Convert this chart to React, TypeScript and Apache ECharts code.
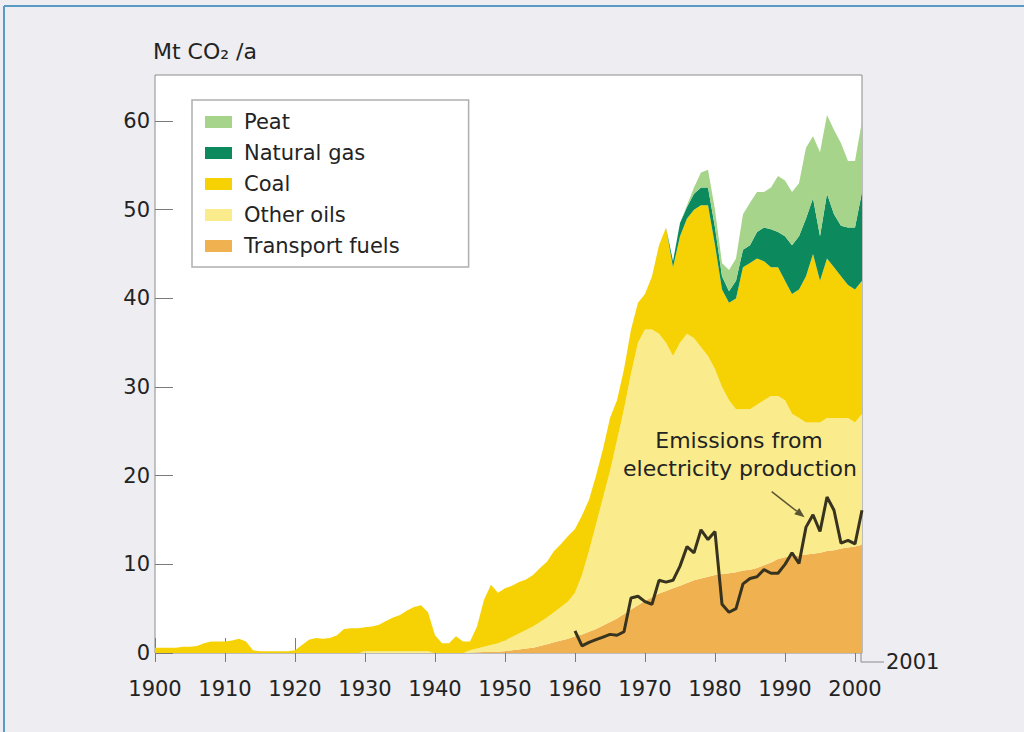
import React, { useEffect, useRef } from "react";
import * as echarts from "echarts";

// Years 1900–2001
const years: number[] = Array.from({ length: 102 }, (_, i) => 1900 + i);

// Emissions by fuel, Mt CO2 per year (stacked from the bottom up)
const transportFuels = [
  0, 0, 0, 0, 0, 0, 0, 0, 0, 0,
  0, 0, 0, 0, 0, 0, 0, 0, 0, 0,
  0, 0, 0, 0, 0, 0, 0, 0, 0, 0,
  0, 0, 0, 0, 0, 0, 0, 0, 0, 0,
  0, 0, 0, 0, 0, 0, 0.05, 0.1, 0.1, 0.15,
  0.2, 0.3, 0.4, 0.5, 0.6, 0.8, 1.0, 1.2, 1.4, 1.6,
  1.9, 2.1, 2.4, 2.7, 3.1, 3.5, 3.9, 4.4, 4.9, 5.4,
  5.9, 6.3, 6.7, 7.0, 7.3, 7.6, 7.9, 8.2, 8.4, 8.6,
  8.8, 8.9, 9.0, 9.1, 9.3, 9.4, 9.6, 9.9, 10.2, 10.6,
  10.8, 10.9, 11.0, 11.1, 11.2, 11.3, 11.5, 11.6, 11.8, 11.9,
  12.0, 12.2,
];

const otherOils = [
  0, 0, 0, 0, 0, 0, 0, 0, 0, 0,
  0, 0, 0, 0, 0, 0, 0, 0, 0, 0,
  0, 0, 0, 0, 0, 0, 0, 0, 0, 0,
  0.2, 0.2, 0.2, 0.2, 0.2, 0.2, 0.2, 0.2, 0.2, 0.2,
  0, 0, 0, 0, 0, 0.3, 0.45, 0.6, 0.8, 0.95,
  1.2, 1.5, 1.8, 2.1, 2.4, 2.7, 3.0, 3.4, 3.8, 4.2,
  4.9, 6.7, 9.1, 11.8, 14.4, 17.0, 20.1, 23.1, 26.6, 29.6,
  30.6, 30.2, 29.3, 28.0, 26.2, 27.4, 28.1, 27.3, 26.1, 24.9,
  23.2, 21.1, 19.5, 18.4, 18.2, 18.1, 18.4, 18.6, 18.8, 18.4,
  17.7, 16.1, 15.5, 14.9, 14.8, 14.7, 15.0, 14.9, 14.7, 14.6,
  14.0, 14.8,
];

const coal = [
  0.6, 0.6, 0.6, 0.6, 0.7, 0.7, 0.8, 1.1, 1.3, 1.3,
  1.3, 1.4, 1.6, 1.3, 0.3, 0.2, 0.2, 0.2, 0.2, 0.2,
  0.3, 0.9, 1.5, 1.7, 1.6, 1.7, 2.0, 2.7, 2.8, 2.8,
  2.7, 2.8, 3.0, 3.4, 3.8, 4.1, 4.6, 5.0, 5.2, 4.4,
  2.0, 1.1, 1.1, 1.9, 1.3, 1.0, 2.5, 5.3, 6.8, 5.7,
  5.9, 5.8, 5.8, 5.7, 5.8, 6.1, 6.3, 6.9, 7.1, 7.4,
  7.2, 6.7, 5.8, 5.5, 5.5, 6.0, 4.5, 4.5, 5.0, 4.5,
  4.0, 6.0, 10.0, 13.0, 10.0, 12.0, 13.0, 14.5, 16.0, 17.0,
  14.0, 11.0, 11.0, 12.5, 16.0, 16.5, 16.5, 15.7, 14.5, 14.5,
  13.5, 13.5, 14.5, 16.5, 19.0, 16.0, 18.0, 17.0, 16.0, 15.0,
  15.0, 15.0,
];

const naturalGas = [
  0, 0, 0, 0, 0, 0, 0, 0, 0, 0,
  0, 0, 0, 0, 0, 0, 0, 0, 0, 0,
  0, 0, 0, 0, 0, 0, 0, 0, 0, 0,
  0, 0, 0, 0, 0, 0, 0, 0, 0, 0,
  0, 0, 0, 0, 0, 0, 0, 0, 0, 0,
  0, 0, 0, 0, 0, 0, 0, 0, 0, 0,
  0, 0, 0, 0, 0, 0, 0, 0, 0, 0,
  0, 0, 0, 0, 0.7, 1.5, 1.3, 1.8, 2.0, 2.0,
  2.0, 1.5, 1.3, 2.0, 2.0, 2.0, 3.0, 3.8, 4.3, 4.0,
  5.0, 5.5, 6.0, 6.5, 6.3, 5.0, 7.3, 6.0, 5.7, 6.5,
  7.0, 10.0,
];

const peat = [
  0, 0, 0, 0, 0, 0, 0, 0, 0, 0,
  0, 0, 0, 0, 0, 0, 0, 0, 0, 0,
  0, 0, 0, 0, 0, 0, 0, 0, 0, 0,
  0, 0, 0, 0, 0, 0, 0, 0, 0, 0,
  0, 0, 0, 0, 0, 0, 0, 0, 0, 0,
  0, 0, 0, 0, 0, 0, 0, 0, 0, 0,
  0, 0, 0, 0, 0, 0, 0, 0, 0, 0,
  0, 0, 0, 0, 0, 0, 0.2, 0.7, 1.7, 2.0,
  2.0, 1.5, 2.4, 2.5, 4.0, 4.8, 4.5, 4.0, 4.7, 6.3,
  6.3, 6.0, 6.0, 8.0, 7.0, 9.5, 8.9, 9.5, 9.3, 7.5,
  7.5, 8.0,
];

// Emissions from electricity production, 1960–2001
const electricityStart = 1960;
const electricity = [
  2.5, 0.8, 1.2, 1.5, 1.8, 2.1, 2.0, 2.4, 6.2, 6.4,
  5.8, 5.5, 8.2, 8.0, 8.2, 9.8, 12.0, 11.3, 13.9, 12.8,
  13.7, 5.5, 4.6, 5.0, 7.8, 8.4, 8.6, 9.4, 9.0, 9.0,
  10.0, 11.3, 10.1, 14.2, 15.6, 13.7, 17.6, 16.1, 12.4, 12.7,
  12.3, 16.1,
];

// Arrow from the annotation to the line: [year, value] at tail and head
const arrowTail = [1988.1, 18.2];
const arrowHead = [1992.8, 15.3];

const yTicks = [0, 10, 20, 30, 40, 50, 60];
const tickYears = [1900, 1910, 1920, 1930, 1940, 1950, 1960, 1970, 1980, 1990, 2000];
const lastYear = 2001;

const FONT = "'DejaVu Sans', Verdana, sans-serif";
const TEXT = "#232323";

const fuels = [
  { name: "Transport fuels", values: transportFuels, color: "#F0B250" },
  { name: "Other oils", values: otherOils, color: "#FAEC8C" },
  { name: "Coal", values: coal, color: "#F6D204" },
  { name: "Natural gas", values: naturalGas, color: "#0C8A5E" },
  { name: "Peat", values: peat, color: "#A6D48A" },
];

const isTickYear = (_: number, value: string | number) => tickYears.includes(Number(value));

export default function App() {
  const ref = useRef<HTMLDivElement>(null);

  useEffect(() => {
    if (!ref.current) return;
    const chart = echarts.init(ref.current, undefined, { renderer: "svg" });

    const areaSeries = fuels.map((f) => ({
      name: f.name,
      type: "line",
      stack: "total",
      data: f.values,
      symbol: "none",
      lineStyle: { width: 0 },
      areaStyle: { color: f.color, opacity: 1 },
      itemStyle: { color: f.color },
      z: 2,
    }));

    const electricityData = years.map((y) =>
      y < electricityStart ? null : electricity[y - electricityStart]
    );

    const categories = years.map(String);

    const option: any = {
      animation: false,
      backgroundColor: "#EDEDF2",
      textStyle: { fontFamily: FONT },
      grid: {
        left: 155,
        top: 75,
        width: 707,
        height: 578,
        show: true,
        backgroundColor: "#FFFFFF",
        borderColor: "#8C8C8C",
        borderWidth: 1,
      },
      legend: {
        left: 192,
        top: 100,
        orient: "vertical",
        data: ["Peat", "Natural gas", "Coal", "Other oils", "Transport fuels"],
        icon: "rect",
        itemWidth: 27,
        itemHeight: 12,
        itemGap: 9,
        padding: [11, 69, 10, 13],
        backgroundColor: "#FFFFFF",
        borderColor: "#AFAFAF",
        borderWidth: 1.5,
        textStyle: {
          fontFamily: FONT,
          fontSize: 21,
          lineHeight: 22,
          color: TEXT,
          padding: [0, 0, 0, 7],
        },
        selectedMode: false,
      },
      xAxis: [
        {
          type: "category",
          data: categories,
          boundaryGap: false,
          axisLine: { show: false },
          splitLine: { show: false },
          axisTick: {
            show: true,
            inside: true,
            length: 15,
            interval: isTickYear,
            lineStyle: { color: "#7A7A7A", width: 1 },
          },
          axisLabel: {
            interval: isTickYear,
            fontFamily: FONT,
            fontSize: 21,
            color: TEXT,
            margin: 25,
          },
        },
        {
          type: "category",
          data: categories,
          position: "bottom",
          boundaryGap: false,
          axisLine: { show: false },
          splitLine: { show: false },
          axisTick: {
            show: true,
            inside: false,
            length: 9,
            interval: isTickYear,
            lineStyle: { color: "#7A7A7A", width: 1 },
          },
          axisLabel: { show: false },
        },
      ],
      yAxis: {
        type: "value",
        min: 0,
        max: 65.2,
        interval: 10,
        axisLine: { show: false },
        splitLine: { show: false },
        axisTick: {
          show: true,
          inside: true,
          length: 18,
          customValues: yTicks,
          lineStyle: { color: "#7A7A7A", width: 1 },
        },
        axisLabel: {
          customValues: yTicks,
          fontFamily: FONT,
          fontSize: 21,
          color: TEXT,
          margin: 5,
        },
      },
      series: [
        ...areaSeries,
        {
          name: "Electricity production",
          type: "line",
          data: electricityData,
          connectNulls: false,
          symbol: "none",
          lineStyle: { color: "#38331F", width: 3 },
          itemStyle: { color: "#38331F" },
          z: 5,
        },
      ],
    };

    chart.setOption(option);

    // Pixel mapping of the time axis and value axis, for annotations
    const p0 = chart.convertToPixel({ xAxisIndex: 0, yAxisIndex: 0 }, [0, 0]) as number[];
    const p1 = chart.convertToPixel({ xAxisIndex: 0, yAxisIndex: 0 }, [years.length - 1, 60]) as number[];
    const px = (year: number) => p0[0] + ((year - years[0]) / (years.length - 1)) * (p1[0] - p0[0]);
    const py = (v: number) => p0[1] + (v / 60) * (p1[1] - p0[1]);

    const tx = px(arrowTail[0]);
    const ty = py(arrowTail[1]);
    const hx = px(arrowHead[0]);
    const hy = py(arrowHead[1]);
    const ang = Math.atan2(hy - ty, hx - tx);
    const headLen = 10;
    const headHalf = 4;
    const bx = hx - headLen * Math.cos(ang);
    const by = hy - headLen * Math.sin(ang);
    const nx = -Math.sin(ang) * headHalf;
    const ny = Math.cos(ang) * headHalf;

    const endX = px(lastYear);
    const endY = py(0);

    chart.setOption({
      graphic: [
        {
          type: "line",
          silent: true,
          shape: { x1: tx, y1: ty, x2: bx, y2: by },
          style: { stroke: "#5A5434", lineWidth: 1.5 },
          z: 10,
        },
        {
          type: "polygon",
          silent: true,
          shape: { points: [[hx, hy], [bx + nx, by + ny], [bx - nx, by - ny]] },
          style: { fill: "#5A5434" },
          z: 10,
        },
        {
          type: "polyline",
          silent: true,
          shape: { points: [[endX - 1, endY], [endX - 1, endY + 9], [endX + 22, endY + 9]] },
          style: { stroke: "#8C8C8C", lineWidth: 1, fill: null },
        },
        {
          type: "text",
          silent: true,
          x: endX + 24,
          y: endY + 9,
          style: {
            text: String(lastYear),
            font: `21px ${FONT}`,
            fill: TEXT,
            textAlign: "left",
            textVerticalAlign: "middle",
          },
        },
        {
          type: "text",
          silent: true,
          left: 153,
          top: 40,
          style: { text: "Mt CO₂ /a", font: `22px ${FONT}`, fill: TEXT },
        },
        {
          type: "text",
          silent: true,
          x: 739,
          y: 440,
          style: {
            text: "Emissions from",
            font: `22px ${FONT}`,
            fill: TEXT,
            textAlign: "center",
            textVerticalAlign: "middle",
          },
          z: 10,
        },
        {
          type: "text",
          silent: true,
          x: 740,
          y: 468,
          style: {
            text: "electricity production",
            font: `22px ${FONT}`,
            fill: TEXT,
            textAlign: "center",
            textVerticalAlign: "middle",
          },
          z: 10,
        },
        // blue frame along the top and left edges
        {
          type: "line",
          silent: true,
          shape: { x1: 4, y1: 6, x2: 1024, y2: 6 },
          style: { stroke: "#5A9BC6", lineWidth: 2 },
        },
        {
          type: "line",
          silent: true,
          shape: { x1: 4, y1: 6, x2: 4, y2: 732 },
          style: { stroke: "#5A9BC6", lineWidth: 2 },
        },
      ],
    });

    return () => chart.dispose();
  }, []);

  return (
    <div
      ref={ref}
      style={{ position: "fixed", left: 0, top: 0, width: 1024, height: 732 }}
    />
  );
}
